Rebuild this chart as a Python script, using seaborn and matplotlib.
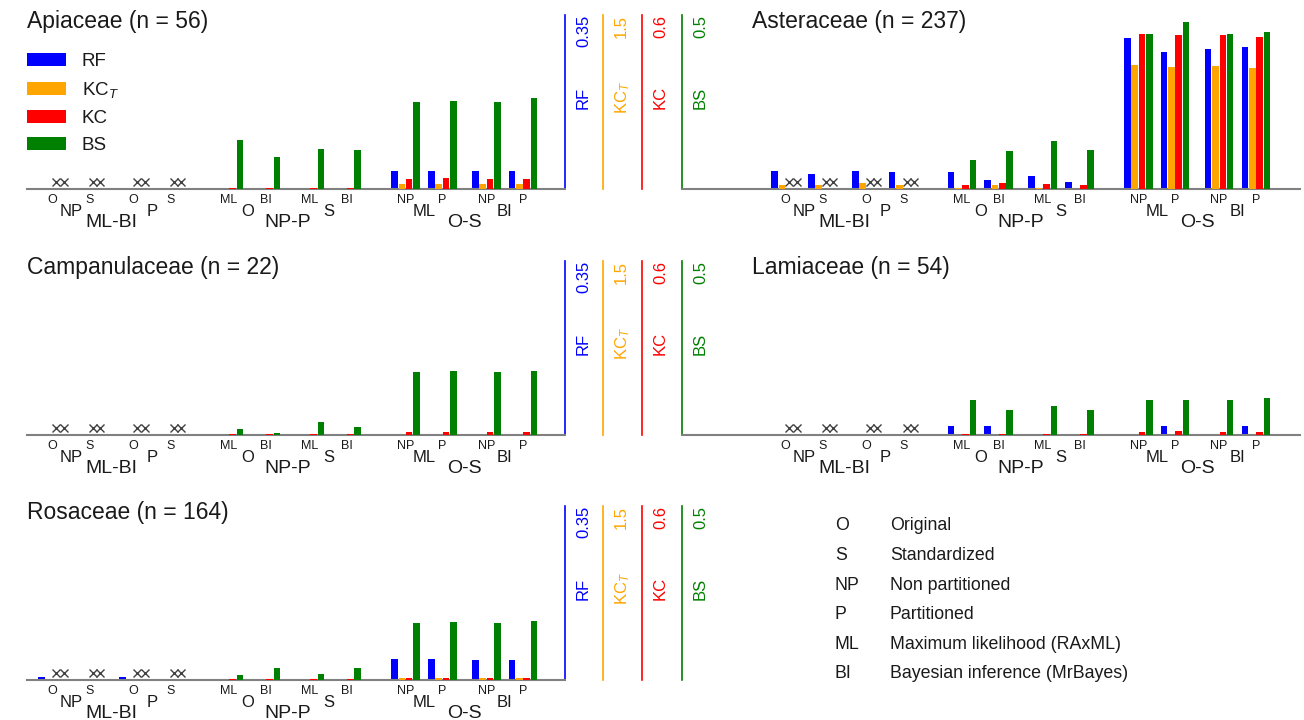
import matplotlib
matplotlib.use('Agg')
import matplotlib.pyplot as plt
import matplotlib.transforms as mtransforms
import seaborn as sns
import numpy as np

nan = np.nan

# group order in every panel:
# ML-BI: O-NP, S-NP, O-P, S-P | NP-P: ML-O, BI-O, ML-S, BI-S | O-S: NP-ML, P-ML, NP-BI, P-BI
families = ['Apiaceae', 'Asteraceae', 'Campanulaceae', 'Lamiaceae', 'Rosaceae']
n_taxa = [56, 237, 22, 54, 164]

apiaceae_rf = [0, 0, 0, 0, 0, 0, 0, 0, 0.037, 0.037, 0.037, 0.037]
apiaceae_kct = [0, 0, 0, 0, 0, 0, 0, 0, 0.046, 0.046, 0.046, 0.046]
apiaceae_kc = [nan, nan, nan, nan, 0.003, 0.003, 0.003, 0.003, 0.0345, 0.037, 0.0345, 0.036]
apiaceae_bs = [nan, nan, nan, nan, 0.141, 0.092, 0.115, 0.111, 0.250, 0.253, 0.249, 0.261]

asteraceae_rf = [0.0368, 0.031, 0.0368, 0.035, 0.034, 0.018, 0.026, 0.0147, 0.304, 0.275, 0.282, 0.286]
asteraceae_kct = [0.032, 0.034, 0.052, 0.032, 0.009, 0.032, 0.009, 0.004, 1.07, 1.054, 1.063, 1.046]
asteraceae_kc = [nan, nan, nan, nan, 0.0128, 0.021, 0.018, 0.0138, 0.533, 0.531, 0.531, 0.524]
asteraceae_bs = [nan, nan, nan, nan, 0.083, 0.110, 0.139, 0.111, 0.446, 0.481, 0.445, 0.451]

campanulaceae_rf = [0, 0, 0, 0, 0, 0, 0, 0, 0, 0, 0, 0]
campanulaceae_kct = [0, 0, 0, 0, 0, 0, 0, 0, 0, 0, 0, 0]
campanulaceae_kc = [nan, nan, nan, nan, 0.003, 0.003, 0.003, 0.003, 0.0093, 0.0093, 0.0093, 0.0093]
campanulaceae_bs = [nan, nan, nan, nan, 0.0172, 0.0067, 0.038, 0.022, 0.180, 0.183, 0.180, 0.183]

lamiaceae_rf = [0, 0, 0, 0, 0.018, 0.018, 0, 0, 0, 0.018, 0, 0.018]
lamiaceae_kct = [0, 0, 0, 0, 0, 0, 0, 0, 0, 0, 0, 0]
lamiaceae_kc = [nan, nan, nan, nan, 0.003, 0.003, 0.003, 0.003, 0.0107, 0.013, 0.0107, 0.012]
lamiaceae_bs = [nan, nan, nan, nan, 0.0998, 0.073, 0.083, 0.072, 0.101, 0.101, 0.101, 0.107]

rosaceae_rf = [0.0054, 0.0027, 0.0054, 0.0027, 0, 0, 0, 0, 0.042, 0.042, 0.0396, 0.0396]
rosaceae_kct = [0, 0, 0, 0, 0, 0, 0, 0, 0.014, 0.014, 0.014, 0.014]
rosaceae_kc = [nan, nan, nan, nan, 0.002, 0.002, 0.002, 0.002, 0.008, 0.008, 0.008, 0.008]
rosaceae_bs = [nan, nan, nan, nan, 0.0144, 0.0335, 0.0172, 0.0354, 0.165, 0.167, 0.164, 0.170]

family_values = [
    [apiaceae_rf, apiaceae_kct, apiaceae_kc, apiaceae_bs],
    [asteraceae_rf, asteraceae_kct, asteraceae_kc, asteraceae_bs],
    [campanulaceae_rf, campanulaceae_kct, campanulaceae_kc, campanulaceae_bs],
    [lamiaceae_rf, lamiaceae_kct, lamiaceae_kc, lamiaceae_bs],
    [rosaceae_rf, rosaceae_kct, rosaceae_kc, rosaceae_bs],
]

measures = ['RF', 'KC$_T$', 'KC', 'BS']
measure_max = [0.35, 1.5, 0.6, 0.5]
measure_max_labels = ['0.35', '1.5', '0.6', '0.5']

group_labels = ['O', 'S', 'O', 'S', 'ML', 'BI', 'ML', 'BI', 'NP', 'P', 'NP', 'P']
pair_labels = ['NP', 'P', 'O', 'S', 'ML', 'BI']
comparison_labels = ['ML-BI', 'NP-P', 'O-S']

key_abbr = ['O', 'S', 'NP', 'P', 'ML', 'BI']
key_text = ['Original', 'Standardized', 'Non partitioned', 'Partitioned',
            'Maximum likelihood (RAxML)', 'Bayesian inference (MrBayes)']

# styling
measure_colors = ['#0000FF', '#FFA500', '#FF0000', '#008000']
spine_offsets = [0, 27.4, 55.4, 84.2]   # points
baseline_color = '#808080'
text_color = '#1a1a1a'
na_color = '#404040'
bar_width = 0.9
title_fontsize = 16.5
legend_fontsize = 13.5
axis_fontsize = 12
small_fontsize = 9
pair_fontsize = 12
comp_fontsize = 14
key_fontsize = 12.8

sns.set_theme(style='white')
plt.rcParams['font.family'] = ['Liberation Sans', 'DejaVu Sans']
plt.rcParams['mathtext.fontset'] = 'custom'
plt.rcParams['mathtext.rm'] = 'Liberation Sans'
plt.rcParams['mathtext.it'] = 'Liberation Sans:italic'

# bar positions in bar-width units
group_start = np.array([s * 24 + p * 11 + m * 5
                        for s in range(3) for p in range(2) for m in range(2)], dtype=float)
group_center = group_start + 2
pair_center = (group_center[0::2] + group_center[1::2]) / 2
comp_center = (pair_center[0::2] + pair_center[1::2]) / 2

W, H = 1304, 720
fig = plt.figure(figsize=(W / 100, H / 100), dpi=100)

panel_h = 174 / H
row_bottoms = [1 - 189 / H, 1 - 435 / H, 1 - 680 / H]
left_box = (27 / W, 538 / W)
right_box = (682 / W, 618 / W)
left_xlim = (-1.5, 71.7)
right_xlim = (-12.1, 72.0)
panel_slots = [(0, 'L'), (0, 'R'), (1, 'L'), (1, 'R'), (2, 'L')]


def draw_panel(i):
    row, side = panel_slots[i]
    x0, w = left_box if side == 'L' else right_box
    ax = fig.add_axes([x0, row_bottoms[row], w, panel_h])
    ax.patch.set_visible(False)
    axes = [ax] + [ax.twinx() for _ in range(3)]
    show_axes = side == 'L'

    for k, a in enumerate(axes):
        vals = np.array(family_values[i][k], dtype=float)
        xs = group_start + k + 0.5
        ok = ~np.isnan(vals)
        native = np.diff(xs[ok]).min()
        sns.barplot(x=xs[ok], y=vals[ok], native_scale=True, orient='x',
                    color=measure_colors[k], saturation=1, width=bar_width / native,
                    errorbar=None, linewidth=0, ax=a)
        a.set_ylim(0, measure_max[k])
        a.set_xlim(*(left_xlim if show_axes else right_xlim))
        for sp in ['left', 'top', 'bottom']:
            a.spines[sp].set_visible(False)
        a.spines['right'].set_visible(show_axes)
        a.spines['right'].set_color(measure_colors[k])
        a.spines['right'].set_linewidth(1.2)
        a.spines['right'].set_position(('outward', spine_offsets[k]))
        a.yaxis.tick_right()
        a.yaxis.set_label_position('right')
        if show_axes:
            a.set_yticks([measure_max[k]])
            a.set_yticklabels([measure_max_labels[k]])
            a.tick_params(axis='y', length=0, pad=8, labelsize=axis_fontsize,
                          labelcolor=measure_colors[k], labelrotation=90)
            for t in a.get_yticklabels():
                t.set_va('top')
            a.set_ylabel(measures[k], color=measure_colors[k], fontsize=axis_fontsize)
            tr = a.transAxes + mtransforms.ScaledTranslation((spine_offsets[k] + 7.5) / 72, 3 / 72,
                                                             fig.dpi_scale_trans)
            a.yaxis.set_label_coords(1, 0.5, transform=tr)
        else:
            a.set_yticks([])
            a.set_ylabel('')
        a.set_xlabel('')

    ax.spines['bottom'].set_visible(True)
    ax.spines['bottom'].set_color(baseline_color)
    ax.spines['bottom'].set_linewidth(1.5)
    ax.set_xticks([])

    # not applicable comparisons (KC, BS between ML and BI)
    blend = mtransforms.blended_transform_factory(ax.transData, ax.transAxes)
    for k in (2, 3):
        vals = np.array(family_values[i][k], dtype=float)
        xs = (group_start + k + 0.5)[np.isnan(vals)]
        axes[-1].plot(xs, np.full(len(xs), 0.043), linestyle='none', marker='x',
                      markersize=5.5, markeredgewidth=1, color=na_color, transform=blend,
                      clip_on=False)

    # hierarchical x labels
    for xc, lab in zip(group_center, group_labels):
        ax.annotate(lab, xy=(xc, 0), xycoords=blend, xytext=(0, -8), textcoords='offset points',
                    ha='center', va='center', fontsize=small_fontsize, color=text_color)
    for xc, lab in zip(pair_center, pair_labels):
        ax.annotate(lab, xy=(xc, 0), xycoords=blend, xytext=(0, -16), textcoords='offset points',
                    ha='center', va='center', fontsize=pair_fontsize, color=text_color)
    for xc, lab in zip(comp_center, comparison_labels):
        ax.annotate(lab, xy=(xc, 0), xycoords=blend, xytext=(0, -24), textcoords='offset points',
                    ha='center', va='center', fontsize=comp_fontsize, color=text_color)

    tx = 0 if show_axes else 70 / 618
    ax.text(tx, 0.96, f'{families[i]} (n = {n_taxa[i]})', transform=ax.transAxes,
            ha='left', va='center', fontsize=title_fontsize, color=text_color)
    return axes


all_axes = [draw_panel(i) for i in range(len(families))]

first = all_axes[0]
handles = [a.containers[0] for a in first]
first[-1].legend(handles, measures, loc='upper left', bbox_to_anchor=(0, 0.783),
                 frameon=False, fontsize=legend_fontsize, handlelength=2.08,
                 handleheight=0.68, handletextpad=0.85, labelspacing=0.54,
                 borderpad=0, borderaxespad=0, labelcolor=text_color)

for j, (ab, tx) in enumerate(zip(key_abbr, key_text)):
    y = 1 - (526 + j * 29.6) / H
    fig.text(835 / W, y, ab, ha='left', va='center', fontsize=key_fontsize, color=text_color)
    fig.text(890 / W, y, tx, ha='left', va='center', fontsize=key_fontsize, color=text_color)

fig.savefig('out.png', dpi=100)
